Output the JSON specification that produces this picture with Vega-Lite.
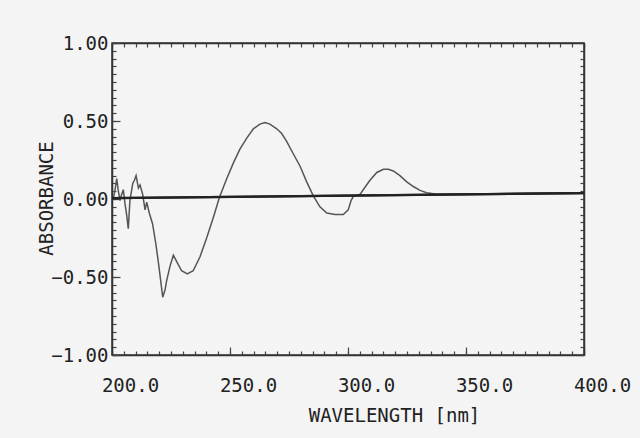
{
  "$schema": "https://vega.github.io/schema/vega-lite/v6.json",
  "autosize": "none",
  "padding": {"left": 112, "top": 43, "right": 56, "bottom": 83},
  "width": 472,
  "height": 312,
  "background": "#f4f4f4",
  "config": {
    "view": {"stroke": "#333333", "strokeWidth": 1.5},
    "axis": {
      "grid": false,
      "domainColor": "#333333",
      "domainWidth": 1.5,
      "tickColor": "#444444",
      "tickWidth": 1.2,
      "labelFont": "DejaVu Sans Mono",
      "labelFontSize": 19,
      "labelColor": "#222222",
      "titleFont": "DejaVu Sans Mono",
      "titleFontSize": 19,
      "titleFontWeight": "normal",
      "titleColor": "#222222",
      "labelOverlap": false,
      "labelFlush": false,
      "labelBound": false
    }
  },
  "datasets": {
    "spectrum": [
      {"nm": 200.5, "abs": 0.0},
      {"nm": 201.2, "abs": 0.05},
      {"nm": 202.0, "abs": 0.13},
      {"nm": 202.6, "abs": 0.06},
      {"nm": 203.4, "abs": -0.01},
      {"nm": 204.1, "abs": 0.03},
      {"nm": 204.8, "abs": 0.06},
      {"nm": 205.5, "abs": -0.03},
      {"nm": 206.2, "abs": -0.1},
      {"nm": 206.9, "abs": -0.19},
      {"nm": 207.6, "abs": -0.01},
      {"nm": 208.8, "abs": 0.1},
      {"nm": 209.5, "abs": 0.12},
      {"nm": 210.2, "abs": 0.15},
      {"nm": 211.2, "abs": 0.07},
      {"nm": 211.9, "abs": 0.09},
      {"nm": 213.0, "abs": 0.03},
      {"nm": 214.0, "abs": -0.07},
      {"nm": 214.7, "abs": -0.02},
      {"nm": 215.8, "abs": -0.09},
      {"nm": 217.2, "abs": -0.16},
      {"nm": 218.6, "abs": -0.29},
      {"nm": 219.6, "abs": -0.4},
      {"nm": 220.6, "abs": -0.52},
      {"nm": 221.5, "abs": -0.63},
      {"nm": 222.5, "abs": -0.58},
      {"nm": 223.2, "abs": -0.52},
      {"nm": 224.6, "abs": -0.43},
      {"nm": 226.0, "abs": -0.36},
      {"nm": 227.7, "abs": -0.41},
      {"nm": 229.5, "abs": -0.46},
      {"nm": 231.9, "abs": -0.48},
      {"nm": 234.4, "abs": -0.46},
      {"nm": 237.3, "abs": -0.37},
      {"nm": 240.1, "abs": -0.25},
      {"nm": 242.9, "abs": -0.12},
      {"nm": 245.5, "abs": 0.01},
      {"nm": 248.6, "abs": 0.13},
      {"nm": 251.4, "abs": 0.23},
      {"nm": 254.2, "abs": 0.32},
      {"nm": 257.1, "abs": 0.39},
      {"nm": 259.9, "abs": 0.45},
      {"nm": 262.7, "abs": 0.48},
      {"nm": 264.8, "abs": 0.49},
      {"nm": 266.9, "abs": 0.48},
      {"nm": 269.8, "abs": 0.45},
      {"nm": 271.9, "abs": 0.42},
      {"nm": 274.0, "abs": 0.37},
      {"nm": 276.8, "abs": 0.29},
      {"nm": 279.7, "abs": 0.21},
      {"nm": 282.5, "abs": 0.11},
      {"nm": 285.3, "abs": 0.02},
      {"nm": 288.1, "abs": -0.05},
      {"nm": 291.0, "abs": -0.09},
      {"nm": 294.5, "abs": -0.1},
      {"nm": 298.0, "abs": -0.1},
      {"nm": 300.1, "abs": -0.07},
      {"nm": 301.3, "abs": -0.01},
      {"nm": 302.2, "abs": 0.015},
      {"nm": 305.1, "abs": 0.03},
      {"nm": 307.2, "abs": 0.075},
      {"nm": 309.3, "abs": 0.12},
      {"nm": 312.2, "abs": 0.17},
      {"nm": 315.0, "abs": 0.19},
      {"nm": 317.1, "abs": 0.19},
      {"nm": 319.2, "abs": 0.18},
      {"nm": 322.0, "abs": 0.15},
      {"nm": 324.9, "abs": 0.11},
      {"nm": 327.7, "abs": 0.08},
      {"nm": 330.5, "abs": 0.055},
      {"nm": 333.3, "abs": 0.04},
      {"nm": 337.6, "abs": 0.03},
      {"nm": 350.0, "abs": 0.03},
      {"nm": 370.0, "abs": 0.035},
      {"nm": 400.0, "abs": 0.04}
    ],
    "baseline": [
      {"nm": 200, "abs": 0.005},
      {"nm": 400, "abs": 0.038}
    ]
  },
  "layer": [
    {
      "data": {"name": "spectrum"},
      "mark": {"type": "line", "color": "#555555", "strokeWidth": 1.5, "clip": true},
      "encoding": {
        "x": {
          "field": "nm", "type": "quantitative",
          "scale": {"domain": [200, 400], "nice": false, "zero": false},
          "axis": {
            "orient": "bottom",
            "tickCount": 40,
            "tickSize": -4,
            "labelExpr": "datum.value % 50 === 0 ? format(datum.value, '.1f') : ''",
            "labelOffset": 18,
            "labelPadding": 34,
            "labelBaseline": "middle",
            "title": "WAVELENGTH [nm]",
            "titleX": 282,
            "titleY": 60,
            "titleBaseline": "middle",
            "titleAnchor": null
          }
        },
        "y": {
          "field": "abs", "type": "quantitative",
          "scale": {"domain": [-1, 1], "nice": false},
          "axis": {
            "orient": "left",
            "tickCount": 40,
            "tickSize": -4,
            "labelExpr": "abs(round(datum.value * 100)) % 50 === 0 ? format(datum.value, '.2f') : ''",
            "labelPadding": 8,
            "title": "ABSORBANCE",
            "titleX": -66,
            "titleY": 155,
            "titleAngle": -90,
            "titleAlign": "center",
            "titleBaseline": "middle",
            "titleAnchor": null
          }
        }
      }
    },
    {
      "data": {"name": "baseline"},
      "mark": {"type": "line", "color": "#222222", "strokeWidth": 2.2},
      "encoding": {
        "x": {
          "field": "nm", "type": "quantitative",
          "axis": {
            "orient": "top",
            "tickCount": 40,
            "tickSize": -4,
            "labels": false,
            "title": null
          }
        },
        "y": {
          "field": "abs", "type": "quantitative",
          "axis": {
            "orient": "right",
            "tickCount": 40,
            "tickSize": -4,
            "labels": false,
            "title": null
          }
        }
      }
    },
    {
      "data": {"name": "baseline"},
      "mark": {"type": "line", "color": "#222222", "strokeWidth": 2.2},
      "encoding": {
        "x": {
          "field": "nm", "type": "quantitative",
          "axis": {
            "orient": "bottom",
            "values": [200, 250, 300, 350, 400],
            "tickSize": -8,
            "domain": false,
            "labels": false,
            "title": null
          }
        },
        "y": {
          "field": "abs", "type": "quantitative",
          "axis": {
            "orient": "left",
            "values": [-1, -0.5, 0, 0.5, 1],
            "tickSize": -8,
            "domain": false,
            "labels": false,
            "title": null
          }
        }
      }
    }
  ],
  "resolve": {"axis": {"x": "independent", "y": "independent"}}
}
